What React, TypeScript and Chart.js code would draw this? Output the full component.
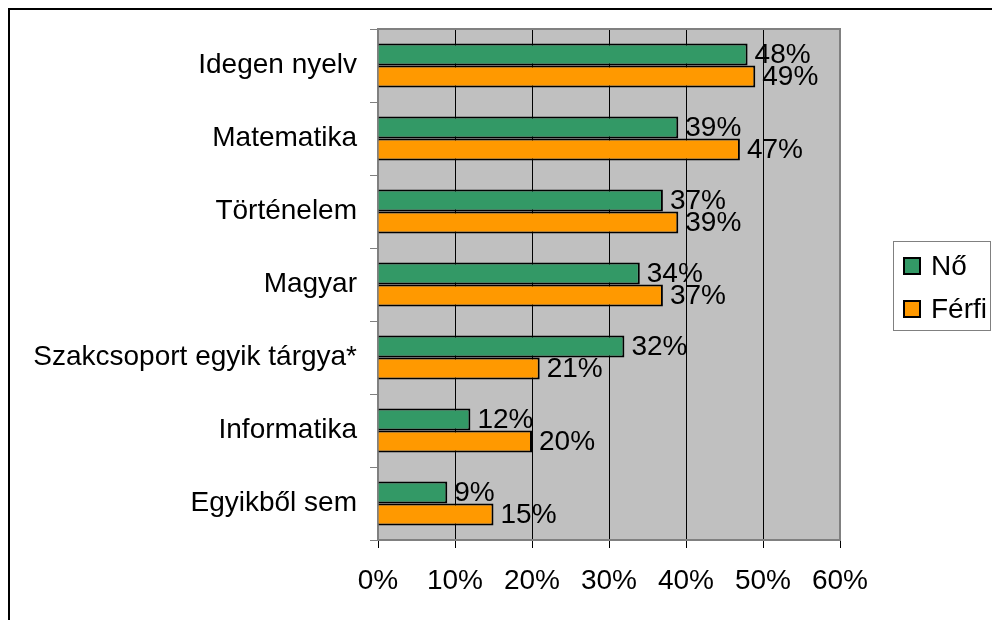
import React, { useEffect, useRef } from "react";
import { Chart, registerables } from "chart.js";

Chart.register(...registerables);

const categories = [
  "Idegen nyelv",
  "Matematika",
  "Történelem",
  "Magyar",
  "Szakcsoport egyik tárgya*",
  "Informatika",
  "Egyikből sem",
];
const noValues = [48, 39, 37, 34, 32, 12, 9];
const ferfiValues = [49, 47, 39, 37, 21, 20, 15];
const seriesNames = ["Nő", "Férfi"];
const seriesColors = ["#339966", "#ff9900"];
const xTicks = [0, 10, 20, 30, 40, 50, 60];

const FONT = "'Liberation Sans', Arial, Helvetica, sans-serif";
const FS = 28;

export default function App() {
  const ref = useRef<HTMLCanvasElement>(null);

  useEffect(() => {
    document.body.style.margin = "0";
    document.documentElement.style.overflow = "hidden";
    const canvas = ref.current;
    if (!canvas) return;

    const framePlugin = {
      id: "framePlugin",
      beforeDraw(chart: any) {
        const { ctx, chartArea: a } = chart;
        ctx.save();
        ctx.fillStyle = "#ffffff";
        ctx.fillRect(0, 0, chart.width, chart.height);
        ctx.fillStyle = "#c0c0c0";
        ctx.fillRect(a.left, a.top, a.right - a.left, a.bottom - a.top);
        ctx.restore();
      },
      beforeDatasetsDraw(chart: any) {
        const { ctx, chartArea: a } = chart;
        ctx.save();
        ctx.strokeStyle = "#808080";
        ctx.lineWidth = 2;
        ctx.strokeRect(a.left, a.top, a.right - a.left, a.bottom - a.top);
        ctx.restore();
      },
      afterDraw(chart: any) {
        const { ctx } = chart;
        ctx.save();
        // outer frame
        ctx.fillStyle = "#000";
        ctx.fillRect(8, 8, chart.width - 8, 2);
        ctx.fillRect(8, 8, 2, chart.height - 8);
        // legend
        ctx.strokeStyle = "#808080";
        ctx.lineWidth = 1;
        ctx.strokeRect(893.5, 241.5, 97, 89);
        ctx.font = `${FS}px ${FONT}`;
        ctx.textBaseline = "middle";
        ctx.textAlign = "left";
        chart.data.datasets.forEach((ds: any, i: number) => {
          const y = 257 + i * 43;
          ctx.fillStyle = ds.backgroundColor;
          ctx.fillRect(903, y, 18, 18);
          ctx.strokeStyle = "#000";
          ctx.lineWidth = 2;
          ctx.strokeRect(904, y + 1, 16, 16);
          ctx.fillStyle = "#000";
          ctx.fillText(ds.label, 931, y + 10);
        });
        ctx.restore();
      },
    };

    const labelPlugin = {
      id: "labelPlugin",
      afterDatasetsDraw(chart: any) {
        const { ctx } = chart;
        ctx.save();
        ctx.font = `${FS}px ${FONT}`;
        ctx.fillStyle = "#000";
        ctx.textBaseline = "middle";
        ctx.textAlign = "left";
        chart.data.datasets.forEach((ds: any, i: number) => {
          const meta = chart.getDatasetMeta(i);
          meta.data.forEach((el: any, j: number) => {
            ctx.fillText(ds.data[j] + "%", el.x + 7, el.y + 1);
          });
        });
        ctx.restore();
      },
    };

    const chart = new Chart(canvas, {
      type: "bar",
      data: {
        labels: categories,
        datasets: [
          {
            label: seriesNames[0],
            data: noValues,
            backgroundColor: seriesColors[0],
            borderColor: "#000",
            borderWidth: 2,
            barPercentage: 1,
            categoryPercentage: 0.6,
          },
          {
            label: seriesNames[1],
            data: ferfiValues,
            backgroundColor: seriesColors[1],
            borderColor: "#000",
            borderWidth: 2,
            barPercentage: 1,
            categoryPercentage: 0.6,
          },
        ],
      },
      options: {
        indexAxis: "y",
        responsive: false,
        animation: false,
        devicePixelRatio: 1,
        layout: { padding: { top: 29, right: 152, bottom: 0, left: 8 } },
        plugins: {
          legend: { display: false },
          tooltip: { enabled: false },
        },
        scales: {
          x: {
            type: "linear",
            min: 0,
            max: 60,
            afterBuildTicks: (s: any) => {
              s.ticks = xTicks.map((v) => ({ value: v }));
            },
            ticks: {
              callback: (v: any) => v + "%",
              font: { family: FONT, size: FS },
              color: "#000",
              padding: 16,
              maxRotation: 0,
              autoSkip: false,
            },
            grid: {
              color: "#000",
              lineWidth: 1,
              tickLength: 8,
              tickColor: "#000",
            },
            border: { color: "#808080", width: 2 },
            afterFit: (s: any) => {
              s.height = 80;
              s.paddingLeft = 0;
              s.paddingRight = 0;
            },
          },
          y: {
            type: "category",
            offset: true,
            ticks: {
              font: { family: FONT, size: FS },
              color: "#000",
              padding: 13,
              autoSkip: false,
            },
            grid: {
              offset: true,
              drawOnChartArea: false,
              tickLength: 8,
              color: "#808080",
            },
            border: { color: "#808080", width: 2 },
            afterFit: (s: any) => {
              s.width = 370;
              s.paddingTop = 0;
              s.paddingBottom = 0;
            },
          },
        },
      },
      plugins: [framePlugin, labelPlugin],
    } as any);

    return () => chart.destroy();
  }, []);

  return <canvas ref={ref} width={992} height={620} style={{ display: "block" }} />;
}
